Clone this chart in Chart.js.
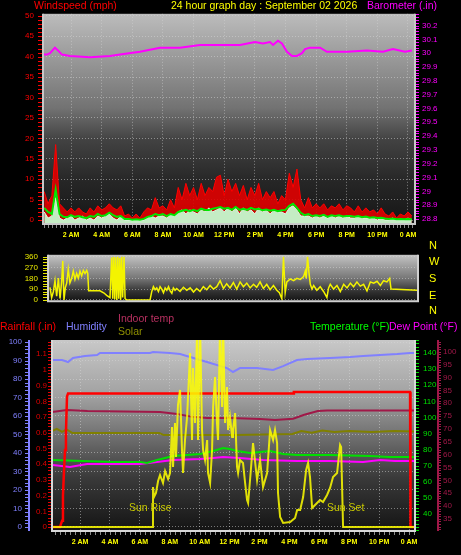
<!DOCTYPE html>
<html>
<head>
<meta charset="utf-8">
<script src="https://cdn.jsdelivr.net/npm/chart.js@4.4.1/dist/chart.umd.min.js"></script>
<style>
  html, body { margin: 0; padding: 0; background: #000; width: 461px; height: 555px; overflow: hidden; }
  canvas { position: absolute; left: 0; }
  .t { position: absolute; font: 10.5px "Liberation Sans", Arial, sans-serif; line-height: 10.5px; white-space: nowrap; }
  .d { position: absolute; left: 429px; font: 11px "Liberation Sans", Arial, sans-serif; line-height: 11px; color: #ffff00; }
</style>
</head>
<body>
<canvas id="windChart" width="461" height="242" style="top:0"></canvas>
<canvas id="dirChart" width="461" height="76" style="top:240px"></canvas>
<canvas id="outChart" width="461" height="237" style="top:318px"></canvas>

<div class="t" style="left:34px;top:0;color:#ff0000">Windspeed (mph)</div>
<div class="t" style="left:171px;top:0;color:#ffff00">24 hour graph day : September 02 2026</div>
<div class="t" style="left:367px;top:0;color:#ff00ff">Barometer (.in)</div>

<div class="d" style="top:240px">N</div>
<div class="d" style="top:256px">W</div>
<div class="d" style="top:273px">S</div>
<div class="d" style="top:290px">E</div>
<div class="d" style="top:305px">N</div>

<div class="t" style="left:0;top:321px;color:#ff0000">Rainfall (.in)</div>
<div class="t" style="left:66px;top:321px;color:#8080ff">Humidity</div>
<div class="t" style="left:118px;top:313px;color:#b83060">Indoor temp</div>
<div class="t" style="left:118px;top:326px;color:#909000">Solar</div>
<div class="t" style="left:310px;top:321px;color:#00ff00">Temperature (°F)</div>
<div class="t" style="left:389px;top:321px;color:#ff00ff">Dew Point (°F)</div>
<div class="t" style="left:129px;top:502px;color:#c8c800">Sun Rise</div>
<div class="t" style="left:327px;top:502px;color:#c8c800">Sun Set</div>

<script>
// ---- tick lists ----
const hourTicks  = [2, 4, 6, 8, 10, 12, 14, 16, 18, 20, 22, 24];
const hourLabels = ['2 AM', '4 AM', '6 AM', '8 AM', '10 AM', '12 PM', '2 PM', '4 PM', '6 PM', '8 PM', '10 PM', '0 AM'];
const windTicks   = [0, 5, 10, 15, 20, 25, 30, 35, 40, 45, 50];
const baroTicks   = [28.8, 28.9, 29, 29.1, 29.2, 29.3, 29.4, 29.5, 29.6, 29.7, 29.8, 29.9, 30, 30.1, 30.2];
const dirTicks    = [0, 90, 180, 270, 360];
const humTicks    = [0, 10, 20, 30, 40, 50, 60, 70, 80, 90, 100];
const rainTicks   = [0, 0.1, 0.2, 0.3, 0.4, 0.5, 0.6, 0.7, 0.8, 0.9, 1, 1.1];
const tempTicks   = [40, 50, 60, 70, 80, 90, 100, 110, 120, 130, 140];
const indoorTicks = [35, 40, 45, 50, 55, 60, 65, 70, 75, 80, 85, 90, 95, 100];

// ---- barometer (in) ----
const baroHours  = [0.17, 0.43, 0.63, 0.95, 1.15, 1.41, 1.93, 3.24, 4.55, 5.2, 6.5, 7.81, 9.11, 10.42, 11.73, 13.03, 14.01, 14.53, 14.99, 15.19, 15.51, 15.77, 16.1, 16.43, 16.75, 17.08, 17.28, 17.6, 18.26, 18.71, 20.02, 21.32, 22.37, 23.02, 23.8, 24.26];
const baroValues = [29.99, 29.99, 30.0, 30.04, 30.02, 29.99, 29.98, 29.97, 29.98, 29.99, 30.01, 30.04, 30.04, 30.06, 30.06, 30.06, 30.08, 30.07, 30.08, 30.06, 30.09, 30.07, 30.01, 29.98, 29.98, 30.0, 30.03, 30.04, 30.04, 30.01, 30.01, 30.02, 30.01, 30.03, 30.01, 30.02];

// ---- wind (mph), every 15 min ----
const windHours = [0.25, 0.5, 0.75, 1, 1.25, 1.5, 1.75, 2, 2.25, 2.5, 2.75, 3, 3.25, 3.5, 3.75, 4, 4.25, 4.5, 4.75, 5, 5.25, 5.5, 5.75, 6,
  6.25, 6.5, 6.75, 7, 7.25, 7.5, 7.75, 8, 8.25, 8.5, 8.75, 9, 9.25, 9.5, 9.75, 10, 10.25, 10.5, 10.75, 11, 11.25, 11.5, 11.75, 12,
  12.25, 12.5, 12.75, 13, 13.25, 13.5, 13.75, 14, 14.25, 14.5, 14.75, 15, 15.25, 15.5, 15.75, 16, 16.25, 16.5, 16.75, 17, 17.25, 17.5, 17.75, 18,
  18.25, 18.5, 18.75, 19, 19.25, 19.5, 19.75, 20, 20.25, 20.5, 20.75, 21, 21.25, 21.5, 21.75, 22, 22.25, 22.5, 22.75, 23, 23.25, 23.5, 23.75, 24, 24.25];
const gustValues = [7, 4, 6, 18.5, 4, 3, 2, 3, 2, 3, 2, 1.5, 3, 2, 3.5, 2.5, 3, 4, 3, 2.5, 3.5, 1, 1.5, 0.5,
  1.5, 0.5, 2, 3, 2.5, 5.5, 3, 3.5, 2.5, 5, 3, 8, 5, 9, 6, 8, 5, 9, 6, 8, 7, 10.5, 11, 6,
  10, 7, 9, 6, 8.5, 5, 8, 6, 9, 5, 7, 5.5, 7, 4, 6, 5, 11.5, 8, 12.5, 5, 3, 5.5, 3, 4,
  3, 4, 2.5, 3.5, 3, 4, 2.5, 3.5, 3, 2, 3.5, 2, 3, 2, 2.5, 1.5, 3, 1.5, 1, 2, 0.5, 1.5, 1, 2, 1];
const avgValues = [3, 2, 1.5, 7.5, 1.5, 0.8, 0.7, 1.2, 0.8, 1, 0.7, 0.5, 1, 0.8, 1.5, 1, 1.2, 1.8, 1.2, 0.8, 1, 0.3, 0.3, 0.1,
  0.2, 0.1, 0.3, 0.8, 1, 1.5, 1.2, 1.5, 1, 1.5, 1.2, 2, 2.3, 2.5, 2.2, 2.5, 2.2, 2.8, 2.5, 2.5, 2.8, 3, 3.2, 2.8,
  3, 2.5, 3.2, 2.5, 2.8, 2.5, 3, 2.6, 2.8, 2.4, 2.6, 2.3, 2.5, 2.2, 2.4, 2.5, 3.5, 4, 3, 1.8, 1.2, 1.5, 1, 1.2,
  1, 1.3, 0.8, 1.2, 1, 1.2, 0.9, 1, 1, 0.8, 1, 0.7, 0.9, 0.6, 0.7, 0.5, 0.6, 0.4, 0.3, 0.4, 0.2, 0.3, 0.2, 0.3, 0.2];
const speedValues = [2, 0.5, 1, 5.5, 0.5, 0, 0.5, 1, 0, 0.5, 1, 0, 0.5, 0, 1, 0.5, 1, 1.5, 0.5, 0, 1, 0, 0, 0,
  0, 0, 0, 0.5, 1, 0.5, 1, 1, 0.5, 1.5, 1, 2, 2.5, 1.5, 2.5, 2, 1.5, 2.5, 2, 3, 2, 2.5, 3, 2,
  3, 2, 3, 1.5, 3, 2, 2.5, 1.5, 3, 2, 2.5, 1.5, 2.5, 2, 2, 1.5, 3, 3.5, 2.5, 1, 1, 1, 0.5, 1,
  0.5, 1, 0.5, 1, 0.5, 1, 0.5, 1, 0.5, 0.5, 1, 0.5, 0.5, 0.5, 0.5, 0, 0.5, 0, 0, 0.5, 0, 0, 0, 0.5, 0];

// ---- wind direction (deg) ----
const dirHours = [0.3, 0.41, 0.52, 0.63, 0.74, 0.85, 0.96, 1.07, 1.14, 1.22, 1.31, 1.4, 1.5, 1.61, 1.73, 1.83, 1.94, 2.05, 2.16, 2.27,
  2.38, 2.49, 2.6, 2.71, 2.78, 2.84, 3.58, 3.85, 4.02, 4.24, 4.35, 4.42, 4.48, 4.55, 4.61, 4.68, 4.75, 4.81, 4.88, 4.94,
  5.01, 5.07, 5.16, 5.23, 5.28, 5.34, 6.87, 6.98, 7.09, 7.2, 7.31, 7.42, 7.53, 7.64, 7.75, 7.86, 7.97, 8.08, 8.19, 8.3,
  8.4, 8.51, 8.62, 8.84, 9.06, 9.28, 9.5, 9.72, 9.93, 10.15, 10.37, 10.59, 10.81, 11.03, 11.25, 11.47, 11.69, 11.9, 12.12, 12.34,
  12.56, 12.78, 13.0, 13.22, 13.44, 13.66, 13.87, 14.09, 14.31, 14.53, 14.75, 14.97, 15.19, 15.36, 15.52, 15.63, 15.74, 15.85, 16.07, 16.29,
  16.51, 16.73, 16.95, 17.06, 17.12, 17.21, 17.3, 17.39, 17.5, 17.61, 17.82, 18.04, 18.26, 18.48, 18.59, 18.7, 18.92, 19.14, 19.36, 19.58,
  19.8, 20.02, 20.23, 20.45, 20.67, 20.89, 21.11, 21.33, 21.55, 21.77, 21.99, 22.2, 22.42, 22.6, 22.69, 24.4];
const dirValues = [104, 19, 68, 161, 30, 182, 11, 161, 325, 0, 104, 142, 256, 142, 182, 240, 171, 220, 182, 240,
  200, 246, 220, 246, 220, 76, 76, 57, 38, 19, 353, 10, 360, 5, 355, 0, 360, 10, 350, 0,
  360, 20, 360, 10, 5, 0, 0, 69, 110, 85, 100, 70, 110, 90, 60, 100, 80, 110, 75, 55,
  100, 80, 95, 70, 105, 80, 100, 65, 95, 70, 110, 85, 120, 90, 110, 160, 95, 135, 100, 145,
  90, 150, 110, 140, 100, 130, 105, 150, 95, 130, 85, 120, 80, 60, 10, 360, 60, 150, 175, 160,
  180, 170, 195, 240, 180, 360, 230, 130, 90, 120, 80, 110, 70, 20, 100, 130, 90, 120, 70, 130,
  100, 140, 110, 150, 115, 130, 75, 150, 140, 155, 120, 160, 150, 180, 90, 80];

// ---- humidity (%) ----
const humHours  = [0.13, 0.8, 1.2, 1.53, 2.33, 3.14, 3.34, 6.68, 6.88, 8.02, 8.69, 9.36, 10.49, 11.83, 12.23, 12.7, 13.84, 14.91, 15.58, 16.51, 17.18, 18.72, 20.06, 20.93, 22.07, 23.21, 24.07, 24.4];
const humValues = [90.3, 90.3, 89.2, 91.4, 92.4, 93.0, 94.1, 94.1, 94.6, 94.1, 93.5, 91.9, 89.2, 85.9, 83.8, 85.9, 85.9, 84.9, 87.0, 90.3, 90.8, 91.4, 91.9, 92.4, 93.0, 93.5, 94.1, 94.1];

// ---- rainfall (in) ----
const rainHours  = [0.13, 0.66, 0.8, 0.86, 0.93, 1.0, 1.06, 1.13, 1.2, 16.25, 16.3, 24.07, 24.1, 24.4];
const rainValues = [0, 0, 0.04, 0.2, 0.36, 0.49, 0.6, 0.83, 0.85, 0.85, 0.86, 0.86, 0, 0];

// ---- indoor temp (F) ----
const indoorHours  = [0.13, 1.13, 2.5, 7.35, 8.5, 9.5, 10.5, 12.03, 14.04, 15.04, 16.25, 17.0, 17.9, 18.52, 24.4];
const indoorValues = [76.6, 77.4, 77.0, 76.6, 75.8, 74.7, 74.3, 74.3, 73.9, 73.5, 74.0, 75.5, 77.0, 77.2, 77.2];

// ---- solar (olive trace) ----
const solarHours  = [0.13, 0.45, 0.8, 1.1, 1.5, 7.3, 7.6, 12.5, 16.2, 16.8, 17.5, 18.2, 19, 20, 21.5, 23, 24.4];
const solarValues = [51.9, 53, 51.4, 52.7, 50.8, 50.8, 49.7, 49.7, 50.3, 51.9, 51, 52.2, 51.4, 51.9, 51.4, 51.9, 51.6];

// ---- temperature / dew point (F) ----
const tempHours  = [0.19, 2.2, 4.21, 6.01, 6.48, 7.15, 8.22, 9.16, 10.03, 10.9, 11.57, 12.03, 12.5, 13.37, 14.71, 15.58, 16.51, 18.72, 21.4, 22.74, 24.07, 24.4];
const tempValues = [73.5, 72.9, 72.3, 72.3, 71.7, 73.5, 76.0, 76.6, 77.3, 79.1, 81.0, 80.4, 79.1, 77.9, 79.1, 77.3, 76.6, 76.6, 76.0, 75.4, 75.4, 75.4];
const dewHours   = [0.19, 1.33, 2.47, 6.01, 7.15, 8.22, 10.03, 10.9, 11.57, 12.7, 14.24, 16.51, 18.72, 20.93, 22.07, 23.07, 24.07, 24.4];
const dewValues  = [70.4, 69.2, 71.1, 71.1, 72.3, 73.5, 74.2, 74.8, 75.4, 74.8, 73.5, 72.9, 72.9, 72.3, 73.5, 72.9, 72.9, 72.9];

// ---- solar radiation (W/m2) ----
const sunHours = [0.13, 6.55, 6.82, 6.88, 6.95, 7.08, 7.22, 7.35, 7.55, 7.69, 7.89, 8.02, 8.15, 8.22, 8.35, 8.42, 8.55, 8.69, 8.82, 8.89,
  9.02, 9.16, 9.36, 9.49, 9.56, 9.69, 9.83, 9.89, 10.03, 10.16, 10.23, 10.36, 10.5, 10.56, 10.7, 10.83, 10.9, 11.03, 11.16, 11.23,
  11.36, 11.5, 11.57, 11.7, 11.83, 11.9, 12.03, 12.17, 12.23, 12.37, 12.5, 12.57, 12.7, 12.9, 13.04, 13.17, 13.24, 13.37, 13.57, 13.84,
  14.04, 14.24, 14.51, 14.71, 14.91, 15.04, 15.18, 15.24, 15.38, 15.58, 16.05, 16.38, 16.52, 16.72, 16.92, 17.12, 17.25, 17.38, 17.52, 17.85,
  18.05, 18.25, 18.52, 18.72, 18.92, 19.19, 19.39, 19.46, 19.59, 24.4];
const sunValues = [0, 0, 0, 200, 150, 170, 230, 260, 220, 280, 240, 270, 500, 300, 520, 350, 610, 685, 385, 270,
  435, 550, 870, 435, 795, 520, 1000, 435, 1000, 485, 385, 335, 435, 270, 220, 385, 600, 750, 520, 435,
  1000, 600, 1000, 520, 700, 485, 550, 450, 485, 570, 300, 270, 335, 320, 220, 135, 120, 235, 420, 235,
  335, 200, 270, 485, 435, 485, 420, 170, 50, 20, 25, 45, 85, 85, 150, 285, 320, 250, 95, 120,
  135, 125, 160, 195, 250, 270, 410, 400, 0, 0];

const FONT = "'Liberation Sans', Arial, sans-serif";
const GRID = 'rgba(215,215,215,0.5)';

function pts(hours, vals) {
  return hours.map((h, i) => ({ x: h, y: vals[i] }));
}

function timeAxis(min, max, height, show) {
  return {
    type: 'linear', min, max, bounds: 'data', display: show,
    afterBuildTicks: s => { s.ticks = hourTicks.map(v => ({ value: v })); },
    afterFit: s => { s.height = height; },
    grid: { color: GRID, drawTicks: false },
    border: { display: false, dash: [1, 2] },
    ticks: {
      autoSkip: false, maxRotation: 0, color: '#ffff00', padding: 7,
      font: { family: FONT, size: 7, weight: 'bold' },
      callback: v => hourLabels[hourTicks.indexOf(v)]
    }
  };
}

function valueAxis(pos, min, max, ticks, color, width, pad, grid, weight) {
  return {
    type: 'linear', position: pos, min, max, bounds: 'data', weight: weight || 0,
    afterBuildTicks: s => { s.ticks = ticks.map(v => ({ value: v })); },
    afterFit: s => { s.width = width; },
    grid: grid ? { color: GRID, drawTicks: false } : { display: false, drawTicks: false },
    border: { display: false, dash: [1, 2] },
    ticks: { color, padding: pad, font: { family: FONT, size: 8 }, callback: v => String(v) }
  };
}

// gradient plot background, frame, small axis tick marks
const panelStyle = {
  id: 'panelStyle',
  beforeDraw(chart, args, opts) {
    const { ctx, chartArea: a } = chart;
    const g = ctx.createLinearGradient(0, a.top, 0, a.bottom);
    opts.stops.forEach(s => g.addColorStop(s[0], s[1]));
    ctx.save();
    ctx.fillStyle = g;
    ctx.fillRect(a.left, a.top, a.right - a.left, a.bottom - a.top);
    ctx.restore();
  },
  afterDraw(chart, args, opts) {
    const { ctx, chartArea: a } = chart;
    ctx.save();
    ctx.strokeStyle = opts.frame;
    ctx.lineWidth = 2;
    ctx.beginPath();
    ctx.moveTo(a.left, a.top); ctx.lineTo(a.left, a.bottom); ctx.lineTo(a.right, a.bottom); ctx.lineTo(a.right, a.top);
    ctx.stroke();
    (opts.minor || []).forEach(m => {
      const s = chart.scales[m.id];
      ctx.strokeStyle = m.color;
      ctx.lineWidth = 1;
      ctx.beginPath();
      const n = Math.round((m.to - m.from) / m.step);
      for (let i = 0; i <= n; i++) {
        const p = Math.round(s.getPixelForValue(m.from + i * m.step)) + 0.5;
        if (s.isHorizontal()) { ctx.moveTo(p, a.bottom + 1); ctx.lineTo(p, a.bottom + 1 + m.len); }
        else if (s.position === 'left') { ctx.moveTo(s.right - m.len - 1, p); ctx.lineTo(s.right - 1, p); }
        else { ctx.moveTo(s.left + 1, p); ctx.lineTo(s.left + 1 + m.len, p); }
      }
      ctx.stroke();
      if (m.line) {
        ctx.lineWidth = 2;
        ctx.beginPath();
        const x = s.position === 'left' ? s.right - 2 : s.left + m.line;
        ctx.moveTo(x, a.top); ctx.lineTo(x, a.bottom);
        ctx.stroke();
      }
    });
    ctx.restore();
  }
};

function line(data, color, width, order, extra) {
  return Object.assign({ data, borderColor: color, borderWidth: width, pointRadius: 0, tension: 0, fill: false, order }, extra || {});
}

const base = {
  responsive: false, animation: false, devicePixelRatio: 1,
  plugins: { legend: { display: false }, tooltip: { enabled: false } }
};

// ---- panel 1: wind speed + barometer ----
new Chart(document.getElementById('windChart'), {
  type: 'line',
  data: {
    datasets: [
      line(pts(baroHours, baroValues), '#ff00ff', 2, 0, { yAxisID: 'yBaro' }),
      line(pts(windHours, avgValues), '#00e800', 2, 1, { yAxisID: 'yWind' }),
      line(pts(windHours, speedValues), '#e0f8e0', 1, 2, { yAxisID: 'yWind', fill: 'start', backgroundColor: '#c4ecc4' }),
      line(pts(windHours, gustValues), '#ff0000', 1, 3, { yAxisID: 'yWind', fill: 'start', backgroundColor: 'rgba(225,0,0,0.9)' })
    ]
  },
  options: Object.assign({}, base, {
    layout: { padding: { top: 10 } },
    scales: {
      x: timeAxis(0.172, 24.457, 18, true),
      yWind: valueAxis('left', -0.95, 50.5, windTicks, '#ff0000', 43, 9, true),
      yBaro: valueAxis('right', 28.764, 30.285, baroTicks, '#ff00ff', 46, 7, false)
    },
    plugins: Object.assign({}, base.plugins, {
      panelStyle: {
        stops: [[0, '#bcbcbc'], [0.45, '#727272'], [0.6, '#424242'], [0.8, '#262626'], [1, '#161616']],
        frame: '#c8c8c8',
        minor: [
          { id: 'yWind', from: 0, to: 50, step: 1, len: 4, color: '#ff0000' },
          { id: 'yBaro', from: 28.8, to: 30.28, step: 0.02, len: 3, color: '#ff00ff' },
          { id: 'x', from: 0.25, to: 24.25, step: 0.25, len: 3, color: '#8a8a8a' }
        ]
      }
    })
  }),
  plugins: [panelStyle]
});

// ---- panel 2: wind direction ----
new Chart(document.getElementById('dirChart'), {
  type: 'line',
  data: {
    datasets: [line(pts(dirHours, dirValues), '#f4f400', 1.5, 0, { yAxisID: 'yDir' })]
  },
  options: Object.assign({}, base, {
    layout: { padding: { top: 4, bottom: 4, right: 43 } },
    scales: {
      x: timeAxis(0.17, 24.46, 0, false),
      yDir: valueAxis('left', -11, 376, dirTicks, '#e8e800', 48, 10, true)
    },
    plugins: Object.assign({}, base.plugins, {
      panelStyle: {
        stops: [[0, '#c4c4c4'], [0.5, '#787878'], [0.8, '#303030'], [1, '#141414']],
        frame: '#d0d0d0',
        minor: [{ id: 'yDir', from: 0, to: 360, step: 22.5, len: 4, color: '#e8e800' }]
      }
    })
  }),
  plugins: [panelStyle]
});

// ---- panel 3: rain, humidity, temperatures, solar ----
new Chart(document.getElementById('outChart'), {
  type: 'line',
  data: {
    datasets: [
      line(pts(sunHours, sunValues), 'rgba(255,255,0,0.85)', 2, 0, { yAxisID: 'ySun' }),
      line(pts(rainHours, rainValues), '#ff0000', 2.5, 1, { yAxisID: 'yRain' }),
      line(pts(tempHours, tempValues), '#00e000', 2, 2, { yAxisID: 'yTemp' }),
      line(pts(dewHours, dewValues), '#ff00ff', 2, 3, { yAxisID: 'yTemp' }),
      line(pts(humHours, humValues), '#8080ff', 2, 4, { yAxisID: 'yHum' }),
      line(pts(indoorHours, indoorValues), '#a01848', 2, 5, { yAxisID: 'yIndoor' }),
      line(pts(solarHours, solarValues), '#808000', 2, 6, { yAxisID: 'yHum' })
    ]
  },
  options: Object.assign({}, base, {
    layout: { padding: { top: 22 } },
    scales: {
      x: timeAxis(0.127, 24.4, 24, true),
      yHum: valueAxis('left', -2.2, 101.1, humTicks, '#8080ff', 31, 9, true, 1),
      yRain: valueAxis('left', -0.025, 1.19, rainTicks, '#e00000', 21, 5, false, 0),
      yTemp: valueAxis('right', 29.4, 148.1, tempTicks, '#00e000', 22, 8, false, 0),
      yIndoor: valueAxis('right', 30.3, 104.6, indoorTicks, '#a01848', 24, 6, false, 1),
      ySun: { type: 'linear', display: false, min: -20, max: 935 }
    },
    plugins: Object.assign({}, base.plugins, {
      panelStyle: {
        stops: [[0, '#c8c8c8'], [0.3, '#a0a0a0'], [0.52, '#6c6c6c'], [0.72, '#3a3a3a'], [1, '#141414']],
        frame: '#d8d8d8',
        minor: [
          { id: 'yHum', from: 0, to: 100, step: 2, len: 5, color: '#8080ff', line: true },
          { id: 'yRain', from: 0, to: 1.18, step: 0.02, len: 3, color: '#e00000' },
          { id: 'yTemp', from: 30, to: 148, step: 2, len: 3, color: '#00e000' },
          { id: 'yIndoor', from: 31, to: 104, step: 1, len: 3, color: '#a01848', line: 1 },
          { id: 'x', from: 0.333, to: 24.333, step: 0.3333, len: 3, color: '#8a8a8a' }
        ]
      }
    })
  }),
  plugins: [panelStyle]
});
</script>
</body>
</html>
